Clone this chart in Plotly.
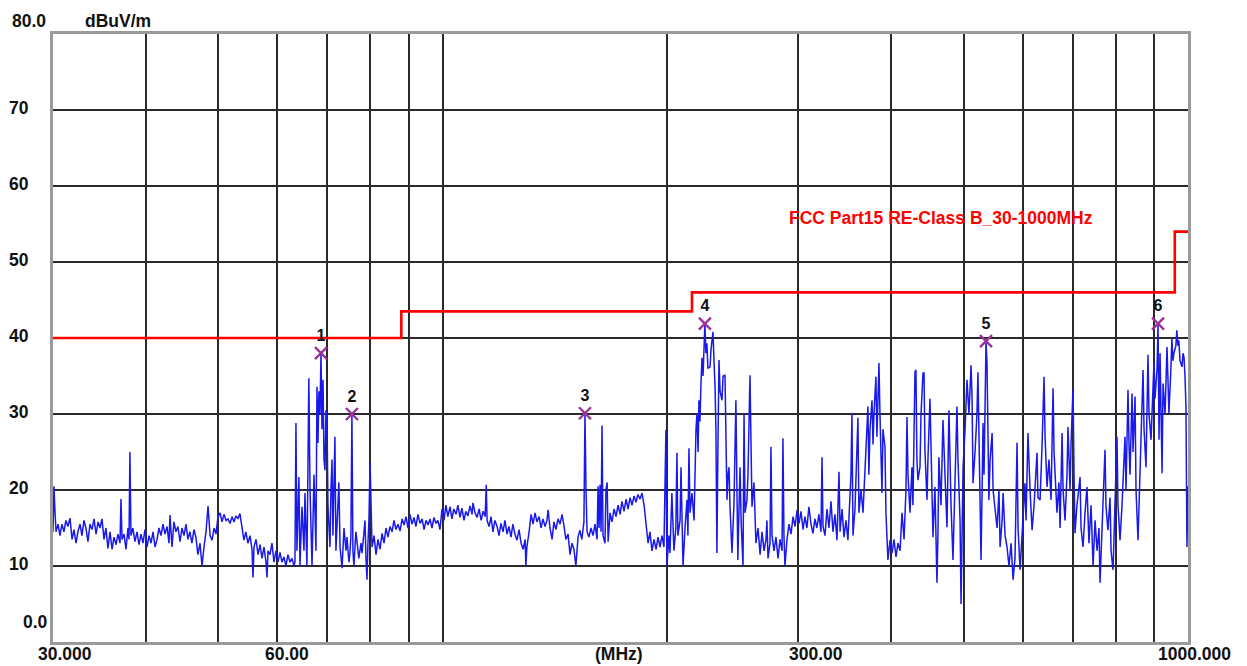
import plotly.graph_objects as go

# ---------------- data ----------------
# measured trace (frequency in MHz, level in dBuV/m), read from the picture
freq_a = [30.00, 30.09, 30.19, 30.28, 30.47, 30.65, 30.84, 31.03, 31.22, 31.41,
          31.62, 31.82, 32.01, 32.21, 32.40, 32.61, 32.81, 33.01, 33.21, 33.42,
          33.63, 33.84, 34.05, 34.27, 34.48, 34.69, 34.90, 35.12, 35.33, 35.55,
          35.78, 36.00, 36.22, 36.45, 36.67, 36.90, 37.01, 37.13, 37.36, 37.59,
          37.82, 37.94, 38.05, 38.17, 38.40, 38.64, 38.89, 39.13, 39.37, 39.62,
          39.86, 40.11, 40.36, 40.61, 40.86, 41.12, 41.37, 41.62, 41.88, 42.14,
          42.40, 42.67, 42.93, 43.06, 43.33, 43.59, 43.86, 44.13, 44.42, 44.69,
          44.97, 45.24, 45.52, 45.80, 46.08, 46.37, 46.65, 46.94, 47.25, 47.54,
          47.83, 48.13, 48.43, 48.74, 49.04, 49.34, 49.64, 49.95, 50.26, 50.57,
          50.88, 51.20, 51.52, 51.84, 52.16, 52.48, 52.80, 53.12, 53.45, 53.78,
          54.11, 54.44, 54.78, 55.14, 55.48, 55.65, 55.82, 56.17, 56.52, 56.87,
          57.22, 57.57, 57.93, 58.11, 58.29, 58.65, 59.01, 59.37, 59.74, 60.12,
          60.49, 60.86, 61.24, 61.61, 61.99, 62.39, 62.78, 63.16, 63.35]
level_a = [14.5, 20.5, 17, 14.5, 15.5, 14, 15.5, 14.5, 16, 15.2,
           16.3, 13.5, 14.8, 13, 14.5, 15.5, 14, 16, 15, 13.2,
           15.5, 14.8, 16.2, 14.2, 15.8, 15, 16.2, 13.5, 15, 12.3,
           14.5, 12.2, 13.8, 12.8, 14.2, 13, 18.8, 13.5, 14.2, 12.2,
           15, 13.5, 25, 14, 15, 13.2, 14.5, 12.8, 14.2, 13,
           14.8, 12.5, 14, 13, 14.5, 12.5, 13.5, 15, 14, 15.5,
           14.2, 15.2, 13, 16.7, 12.5, 15.8, 14.5, 15.2, 13.2, 15,
           14, 15.5, 13.5, 14.5, 13, 14.8, 13.8, 11.5, 13, 10,
           12.5, 14.5, 17.9, 14, 13.4, 15, 14.2, 16.5, 17, 15.8,
           16.8, 16, 16.2, 15.6, 16.5, 15.8, 16.6, 16.2, 16.9, 15,
           13.4, 14.5, 13, 14, 12.2, 8.5, 12.5, 13.5, 11.5, 12.8,
           11, 12.5, 10.5, 8.5, 12, 11.5, 13, 10.5, 12, 10.5,
           11.8, 10.5, 11.2, 10, 11.5, 10.5, 11, 10, 10.5]

freq_b = [63.55, 63.74, 64.13, 64.34, 64.74, 65.14, 65.34, 65.74, 66.13, 66.37,
          66.78, 67.19, 67.60, 67.81, 68.02, 68.22, 68.45, 68.66, 68.87, 69.09,
          69.30, 69.51, 69.72, 69.94, 70.15, 70.59, 70.81, 71.03, 71.24, 71.68,
          71.90, 72.12, 72.56, 72.82, 73.27, 73.72, 74.17, 74.40, 74.85, 75.08,
          75.31, 75.54, 75.78, 76.01, 76.47, 76.70, 77.17, 77.70, 77.94, 78.42,
          78.66, 78.90, 79.14, 79.38, 79.62, 79.90, 80.15, 80.39, 80.89, 81.38,
          81.88, 82.40, 82.91, 83.42, 83.93, 84.44, 84.98, 85.51, 86.03, 86.56,
          87.09, 87.66, 88.20, 88.74, 89.29, 89.83, 90.39, 90.95, 91.51, 92.07,
          92.63, 93.25, 93.83, 94.41, 94.99, 95.57, 96.15, 96.74, 97.34, 97.93,
          98.53, 99.17]
level_b = [28.8, 12, 21.7, 10, 17.8, 12, 19.6, 10, 34.7, 20,
           10, 22, 12, 33.6, 26.2, 33, 30, 38.0, 28, 34.5,
           24, 22.6, 30.5, 29.6, 18, 12.5, 20, 24, 14, 27,
           12, 16, 21, 12.5, 9.7, 15, 12, 13.8, 10.5, 11.7,
           14, 30.0, 12, 10, 14.5, 13.4, 11, 13, 11.7, 14.5,
           16, 11, 8.2, 13, 16, 23.7, 17, 12.5, 14, 11.5,
           13.5, 12.2, 14.3, 13, 15, 13.8, 15.2, 14.5, 16, 14.8,
           15.5, 14.6, 16.2, 15.4, 16.5, 15, 16.8, 15.5, 16.4, 15.2,
           16.8, 15.6, 16.2, 14.8, 16, 15.4, 16.2, 15, 16.4, 15.6,
           16, 14.8]

freq_c = [99.78, 100.4, 101.0, 101.6, 102.3, 102.9, 103.5, 104.2, 104.8, 105.5,
          106.1, 106.8, 107.4, 108.1, 108.8, 109.5, 109.8, 110.5, 111.2, 111.9,
          112.6, 113.3, 114.0, 114.4, 114.7, 115.4, 116.1, 116.8, 117.5, 118.3,
          119.0, 119.7, 120.5, 121.2, 122.0, 122.7, 123.5, 124.2, 125.0, 125.8,
          126.6, 127.4, 128.2, 129.0, 129.3, 129.7, 130.6, 131.4, 132.2, 133.0,
          133.8, 134.7, 135.5, 136.3, 137.2, 138.0, 138.5, 139.3, 140.2, 141.0,
          141.9, 142.8, 143.7, 144.6, 145.5, 146.3, 147.3, 148.2, 149.1, 150.0,
          150.9, 151.9, 152.8, 153.7, 154.7, 155.2, 155.7, 156.2, 157.1, 158.1,
          159.1, 160.1, 161.1, 161.6, 162.1, 162.6, 163.1, 163.6, 164.1, 165.1,
          165.6, 166.2, 166.7, 167.7, 168.7, 169.8, 170.8, 171.9, 173.0, 174.0,
          175.1, 176.2, 177.3, 178.4, 179.5, 180.6, 181.7, 182.8, 184.0, 185.1,
          186.3, 187.4, 188.6, 189.7, 190.9, 192.1, 193.3, 194.5, 195.7, 196.9,
          198.1]
level_c = [17.5, 16, 18, 16.5, 17.8, 16.2, 17.5, 16.8, 18, 16.4,
           17.6, 16, 17.2, 16.6, 17.9, 16.8, 18.3, 17, 16.4, 17.5,
           16, 17.2, 16.5, 20.7, 16, 15.2, 16.5, 14.5, 16, 15.2,
           14, 15.6, 14.5, 16, 14.2, 15.2, 13.8, 15.5, 14.2, 13.4,
           14.8, 13, 12.2, 13.5, 10, 12.5, 14.5, 16.8, 15.5, 17,
           15.8, 16.5, 15, 16.2, 15.2, 16, 17.4, 15, 13.5, 15.8,
           14.8, 16.2, 15.5, 16.8, 15.2, 13.5, 14.2, 11.5, 13, 12.2,
           10, 13.8, 14.7, 13.5, 15.8, 30.1, 20, 14.5, 13.8, 15,
           14, 15.5, 13.5, 20.5, 15, 20.7, 14.5, 28.5, 14, 13,
           20, 21, 13.2, 17, 15.8, 17.5, 16.5, 18, 16.8, 18.5,
           17.2, 18.8, 17.5, 19, 18, 19.2, 18.4, 19.4, 18.8, 19.6,
           18, 15.5, 13, 14.5, 12, 13.5, 12.2, 13.8, 12.5, 14,
           12.5]

freq_d = [199.3, 199.9, 201.2, 201.8, 203.0, 204.3, 205.5, 206.2, 206.8, 208.2,
          208.8, 209.5, 210.1, 211.4, 212.7, 213.3, 214.0, 214.7, 216.0, 217.4,
          218.0, 218.7, 219.4, 220.1, 220.7, 221.4, 222.1, 222.8, 223.5, 224.2,
          224.8, 225.5, 226.2, 226.9, 228.4, 229.1, 230.5, 231.2, 231.9, 232.6,
          233.3, 234.0, 234.8, 235.6, 237.0, 237.8, 239.2, 240.0, 240.7, 241.4,
          242.2, 242.9, 244.4, 245.9, 247.4, 248.2, 248.9, 249.7, 250.6, 251.4,
          252.9, 253.7, 254.5, 256.0, 256.8, 258.4, 259.2, 260.0, 261.6, 263.2,
          264.9, 266.6, 268.2, 269.9, 271.5, 272.3, 273.2, 274.9, 275.7, 276.6,
          278.3, 280.0, 281.8, 283.5, 285.3, 286.1, 287.0, 287.9, 289.7, 291.5,
          293.3, 295.2, 297.0, 298.9, 300.7, 302.5, 304.4, 306.2, 308.1, 310.0,
          312.0, 313.9, 315.8, 317.7, 319.7, 321.8, 322.8, 323.8, 325.8, 327.8,
          329.8, 331.9, 333.9, 336.0, 338.1, 340.2, 341.3, 343.4, 345.5, 347.6,
          349.7, 352.0, 353.0, 354.1, 355.2, 357.4, 358.5, 359.6, 360.7, 361.8,
          364.1, 366.4, 368.6, 369.7, 372.0, 373.1, 374.4, 376.7, 377.9, 379.0,
          381.3, 382.5, 383.7, 384.9, 386.1, 387.3, 388.5, 389.7, 392.1, 393.3,
          394.5, 395.7, 398.3, 400.8, 403.2, 405.7, 408.2, 410.8]
level_d = [27.9, 10, 14, 11.7, 19.6, 12, 15, 24.9, 14, 16,
           23, 14, 10, 15, 18.7, 14, 25.5, 17, 19.6, 16,
           22, 28, 30.1, 25, 31.8, 29, 34, 37.4, 35, 39.5,
           41.9, 38, 39.3, 36, 36.2, 38.5, 40.8, 37, 34, 28,
           11.7, 25, 37.1, 33, 31.8, 35, 35.1, 26, 18.7, 22,
           23, 18, 11.7, 18, 31.8, 20, 10.8, 17, 23, 16,
           10, 30.1, 17, 18.7, 22, 35.1, 24, 17.8, 21, 13,
           15, 11.5, 14.5, 12, 13.5, 16, 11, 13, 25.7, 14,
           12, 13.8, 11, 13.5, 12, 26.8, 14, 10, 13.5, 15.5,
           14.2, 16.5, 15.2, 17.4, 15.6, 17.2, 14.8, 16.5, 15, 17.8,
           15.5, 14.3, 16.2, 15, 16.8, 14.5, 24.3, 15.2, 14, 17.5,
           15, 18.5, 14.5, 16.8, 13.4, 22.4, 14.5, 17.5, 13.8, 16,
           13.4, 20, 22, 30.1, 14, 17.5, 22, 24, 29.5, 17,
           20, 17, 22, 25, 31, 22, 28, 31.8, 26, 30,
           34.9, 27, 32, 36.7, 30, 25, 19.6, 28, 25.7, 17,
           13, 10.8, 13.4, 11.7, 13.5, 11.2, 13, 12]

freq_e = [413.3, 415.9, 418.4, 419.7, 421.0, 423.6, 426.2, 427.5, 430.2, 431.5,
          432.8, 434.1, 436.9, 438.3, 441.0, 442.4, 443.7, 446.5, 447.8, 450.6,
          452.0, 454.8, 457.6, 460.4, 461.8, 463.2, 466.2, 469.1, 472.0, 474.9,
          477.8, 479.4, 480.9, 483.8, 486.8, 489.8, 491.3, 494.5, 496.0, 497.6,
          499.1, 502.2, 505.2, 508.3, 511.6, 513.2, 514.7, 517.9, 521.0, 522.6,
          524.2, 527.6, 529.3, 530.9, 532.5, 534.1, 535.8, 537.4, 539.0, 540.6,
          542.6, 546.0, 547.6, 551.0, 554.4, 557.7, 559.6, 563.1, 564.8, 568.3,
          571.7, 575.2, 578.9, 582.5, 586.0, 589.7, 591.5, 595.2, 598.9, 602.6,
          604.4, 606.3, 609.9, 613.9, 617.7, 621.5, 625.3, 627.2, 629.1, 633.2,
          637.1, 641.0, 643.0, 646.9, 650.8, 655.0, 657.0, 659.1, 661.1, 667.1,
          671.2, 673.5, 677.7, 679.8, 683.9, 688.1, 690.2, 694.6, 696.7, 701.0,
          703.2, 705.3, 709.6, 716.4, 718.6, 723.0, 727.5, 731.9, 736.4, 741.2,
          745.8, 750.4, 755.0, 759.6, 762.0, 766.7, 769.1, 773.8, 776.1, 780.8,
          786.0, 788.4, 793.3, 798.2, 803.0, 805.5, 810.6, 815.6, 820.6, 823.1,
          825.7, 830.8, 833.4, 836.0, 841.2, 843.8, 849.1, 851.6, 856.9, 862.3,
          865.0, 870.3, 873.0, 878.3, 883.7, 886.5, 892.1, 894.8, 900.3, 903.1,
          908.8, 911.6, 914.4, 917.3, 923.0, 925.8, 931.5, 937.2, 940.0, 942.8,
          948.6, 951.5, 954.4, 957.4, 963.2, 966.1, 969.1, 972.0, 975.7, 981.7,
          984.7, 987.7, 990.7, 993.7, 996.8, 1000.0]
level_e = [17, 13.5, 20, 29.6, 22, 17, 23, 18, 35.5, 35.8,
           24, 21.3, 23, 30, 35.4, 35.4, 25, 18.7, 24, 32,
           26, 13.8, 20.4, 7.8, 14, 24.3, 18, 29.2, 22, 15.1,
           30.5, 22, 18, 10.8, 20, 31, 24, 16, 5, 14,
           23, 28, 34.5, 30, 36.4, 32, 20.9, 25, 30, 35.5,
           26, 10.8, 20, 28.8, 22, 32, 39.6, 36.7, 28, 18.7,
           24, 27.5, 20, 17.8, 15, 20, 12.5, 16, 19.6, 14,
           12.5, 10, 13, 8.2, 11, 26.2, 15, 9.5, 14, 18,
           20.9, 16, 27.5, 20, 14.7, 18, 22, 24.9, 19, 18.7,
           26, 34.9, 27, 20.4, 24, 18.7, 26, 33.4, 25, 17,
           21, 15, 27.5, 20, 16, 22, 28.3, 20, 26, 33.4,
           22, 14.3, 18, 21.7, 15, 12.5, 17, 20.4, 13, 18,
           10, 16, 12, 15, 7.8, 14, 19, 25.3, 18, 14.7,
           19, 12, 9.5, 20, 27, 18, 13.4, 18, 23, 27,
           20, 33.2, 26, 22, 32.7, 25, 32.3, 20, 13.4, 22,
           28, 35.8, 28, 23, 37.8, 30, 26.6, 30, 36.9, 32,
           36, 41.9, 26.6, 38, 22.2, 34, 30, 38.8, 34, 30.1,
           36, 40, 37, 38, 39, 41, 39, 39.7, 37, 36.2,
           38, 37.5, 35, 31, 12.5, 20.5]

# FCC Part 15 Class B limit
limit_freq = [30, 88, 88, 216, 216, 960, 960, 1000]
limit_level = [40, 40, 43.5, 43.5, 46, 46, 54, 54]
limit_name = "FCC Part15 RE-Class B_30-1000MHz"

# peak markers
marker_freq = [68.66, 75.54, 155.2, 224.8, 535.8, 911.6]
marker_level = [38.0, 30.0, 30.1, 41.9, 39.6, 41.9]
marker_label = ["1", "2", "3", "4", "5", "6"]

# axis grid / labels
x_grid = [40, 50, 60, 70, 80, 90, 100, 200, 300, 400, 500, 600, 700, 800, 900]
y_grid = [10, 20, 30, 40, 50, 60, 70]
y_tick_labels = ["10", "20", "30", "40", "50", "60", "70"]

trace_freq = freq_a + freq_b + freq_c + freq_d + freq_e
trace_level = level_a + level_b + level_c + level_d + level_e

# ---------------- figure ----------------
W, H = 1247, 666
L, R, T, B = 53, 1188, 34, 642


def px(x):
    return (x - L) / (R - L)


def py(y):
    return (B - y) / (B - T)


FONT = "Liberation Sans, Arial, sans-serif"

fig = go.Figure()
fig.add_trace(go.Scatter(x=trace_freq, y=trace_level, mode="lines",
                         line=dict(color="rgb(25,25,235)", width=1.5),
                         hoverinfo="skip", showlegend=False))
fig.add_trace(go.Scatter(x=limit_freq, y=limit_level, mode="lines",
                         line=dict(color="#ff0000", width=2.6),
                         hoverinfo="skip", showlegend=False))
fig.add_trace(go.Scatter(x=marker_freq, y=marker_level, mode="markers+text",
                         text=["<b>%s</b>" % s for s in marker_label],
                         textposition="top center",
                         textfont=dict(family=FONT, size=16, color="#111"),
                         marker=dict(symbol="x-thin", size=12,
                                     line=dict(color="#99339a", width=2.4)),
                         hoverinfo="skip", showlegend=False))

fig.update_xaxes(type="log", range=[1.4771213, 3.0], tickvals=x_grid,
                 showticklabels=False, ticks="", showgrid=True,
                 gridcolor="#2a2a2a", gridwidth=1.7, zeroline=False,
                 showline=True, mirror=True, linecolor="#9a9a9a", linewidth=3)
fig.update_yaxes(range=[0, 80], tickvals=y_grid, showticklabels=False,
                 ticks="", showgrid=True, gridcolor="#2a2a2a", gridwidth=1.7,
                 zeroline=False, showline=True, mirror=True,
                 linecolor="#9a9a9a", linewidth=3)

ann = []


def text(x, y, s, xanchor="left", color="#111", size=17.5):
    ann.append(dict(x=px(x), y=py(y), xref="paper", yref="paper",
                    text="<b>%s</b>" % s, showarrow=False, xanchor=xanchor,
                    yanchor="middle",
                    font=dict(family=FONT, size=size, color=color)))


# y tick labels
for v, s in zip(y_grid, y_tick_labels):
    text(7, B - (B - T) * v / 80 - 2, s)
text(10, 21, "80.0")
text(21, 622, "0.0")
text(83, 21, "dBuV/m")
# x tick labels
text(36, 654, "30.000")
text(263, 654, "60.00")
text(593, 654, "(MHz)")
text(787, 654, "300.00")
text(1156, 654, "1000.000")
# limit name
text(787, 218, limit_name, color="#ff0000")

fig.update_layout(width=W, height=H, autosize=False,
                  margin=dict(l=L, r=W - R, t=T, b=H - B, pad=0),
                  paper_bgcolor="white", plot_bgcolor="white",
                  annotations=ann, showlegend=False)

fig.write_html("out.html")
